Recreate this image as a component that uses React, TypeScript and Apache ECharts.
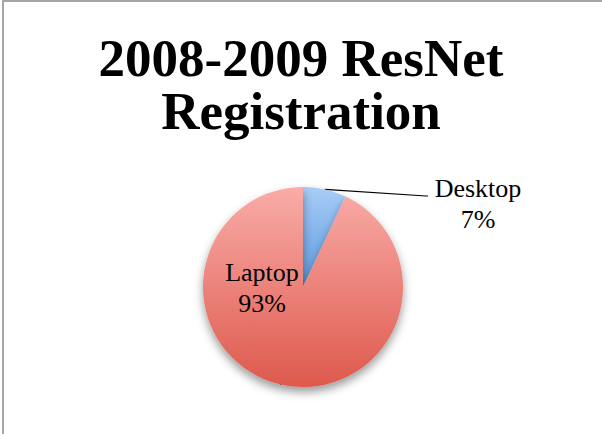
import React, { useEffect, useRef } from "react";
import * as echarts from "echarts";

const categories = ["Desktop", "Laptop"];
const values = [7, 93];
const titleText = "2008-2009 ResNet\nRegistration";

const SERIF = "'Liberation Serif', 'DejaVu Serif', serif";

export default function App() {
  const ref = useRef<HTMLDivElement>(null);
  useEffect(() => {
    if (!ref.current) return;
    const chart = echarts.init(ref.current, null, { renderer: "svg" });
    const gradients = [
      new echarts.graphic.LinearGradient(0, 0, 0, 1, [
        { offset: 0, color: "#a9ccf7" },
        { offset: 1, color: "#5a9be0" },
      ]),
      new echarts.graphic.LinearGradient(0, 0, 0, 1, [
        { offset: 0, color: "#f9aca8" },
        { offset: 1, color: "#de594d" },
      ]),
    ];
    const labelPos = [
      { x: 478, y: 204 },
      { x: 262, y: 288 },
    ];
    chart.setOption({
      animation: false,
      backgroundColor: "#ffffff",
      title: {
        text: titleText,
        left: "center",
        top: 31,
        padding: 0,
        textStyle: {
          fontFamily: SERIF,
          fontWeight: "bold",
          fontSize: 53,
          lineHeight: 53,
          color: "#000000",
        },
      },
      graphic: [
        {
          type: "line",
          shape: { x1: 2, y1: 1, x2: 602, y2: 1 },
          style: { stroke: "#a6a6a6", lineWidth: 2 },
        },
        {
          type: "line",
          shape: { x1: 3, y1: 0, x2: 3, y2: 434 },
          style: { stroke: "#a6a6a6", lineWidth: 2 },
        },
      ],
      series: [
        {
          type: "pie",
          center: [303, 287],
          radius: 100,
          startAngle: 90,
          clockwise: true,
          data: categories.map((c, i) => ({
            name: c,
            value: values[i],
            itemStyle: { color: gradients[i] },
          })),
          itemStyle: {
            shadowBlur: 10,
            shadowOffsetY: 5,
            shadowColor: "rgba(0,0,0,0.4)",
          },
          label: {
            show: true,
            formatter: (p: any) => `${p.name}\n${Math.round(p.percent)}%`,
            fontFamily: SERIF,
            fontSize: 26,
            lineHeight: 31,
            color: "#000000",
            align: "center",
          },
          labelLine: {
            show: true,
            length: 20,
            length2: 40,
            smooth: false,
            lineStyle: { color: "#000000", width: 1.2 },
          },
          labelLayout: (params: any) => {
            const pos = labelPos[params.dataIndex];
            const out: any = {
              x: pos.x,
              y: pos.y,
              align: "center",
              verticalAlign: "middle",
            };
            const pts = params.labelLinePoints;
            if (pts && pts.length) {
              const a = pts[0];
              out.labelLinePoints = [
                [a[0], a[1]],
                [pos.x - 52, pos.y - 8],
                [pos.x - 50, pos.y - 8],
              ];
            }
            return out;
          },
          emphasis: { disabled: true },
        },
      ],
    });
    return () => chart.dispose();
  }, []);
  return (
    <div
      ref={ref}
      style={{ position: "absolute", left: 0, top: 0, width: 602, height: 434 }}
    />
  );
}
